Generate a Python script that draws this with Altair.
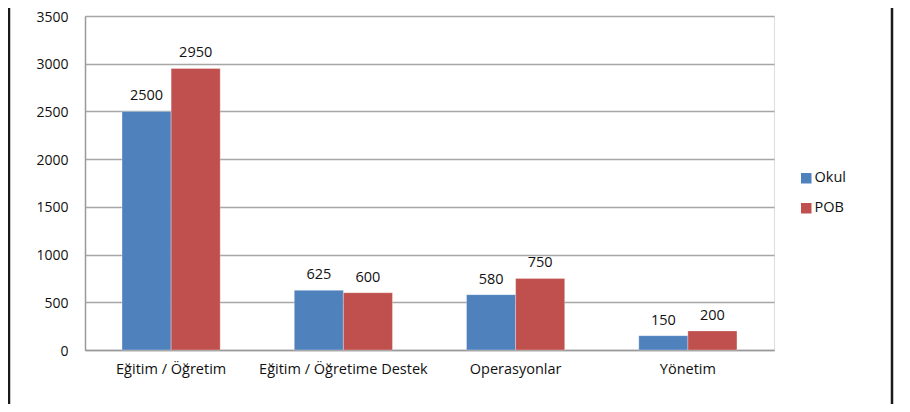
import altair as alt
import pandas as pd

categories = ["Eğitim / Öğretim", "Eğitim / Öğretime Destek", "Operasyonlar", "Yönetim"]
series = ["Okul", "POB"]
okul = [2500, 625, 580, 150]
pob = [2950, 600, 750, 200]
colors = ["#4F81BD", "#C0504D"]
FONT = "Open Sans"
FS = 14.5

rows = []
for c, a, b in zip(categories, okul, pob):
    rows.append({"cat": c, "series": "Okul", "value": a})
    rows.append({"cat": c, "series": "POB", "value": b})
df = pd.DataFrame(rows)

W, H = 689, 334

x = alt.X("cat:N", sort=categories, title=None,
          scale=alt.Scale(paddingInner=0.43, paddingOuter=0.215),
          axis=alt.Axis(labelAngle=0, ticks=False, labelPadding=12, labelFontSize=FS,
                        labelFont=FONT, labelColor="#111111", domainColor="#9a9a9a",
                        domainWidth=1.5, grid=False))
y = alt.Y("value:Q", title=None,
          scale=alt.Scale(domain=[0, 3500], nice=False),
          axis=alt.Axis(values=list(range(0, 3501, 500)), format="d", ticks=False, labelPadding=17,
                        labelFontSize=14, labelOffset=1, labelFont=FONT, labelColor="#111111",
                        domainColor="#9a9a9a", domainWidth=1.5,
                        gridColor="#a6a6a6", gridWidth=1.5))
color = alt.Color("series:N", scale=alt.Scale(domain=series, range=colors),
                  legend=alt.Legend(title=None, orient="none", legendX=714, legendY=155,
                                    symbolType="square", symbolSize=110, symbolStrokeWidth=0,
                                    labelFontSize=FS, labelFont=FONT, labelColor="#111111",
                                    rowPadding=15, labelOffset=1))
xoff = alt.XOffset("series:N", sort=series)

base = alt.Chart(df)
bars = base.mark_bar(stroke="#ffffff", strokeWidth=0.3).encode(x=x, y=y, color=color, xOffset=xoff)
labels = base.mark_text(baseline="alphabetic", dy=-11, fontSize=FS, font=FONT, color="#111111").encode(
    x=alt.X("cat:N", sort=categories), y="value:Q", xOffset=xoff, text="value:Q")

frame_df = pd.DataFrame({"k": [0]})
left_line = alt.Chart(frame_df).mark_rule(color="#1a1a1a", strokeWidth=2.5).encode(
    x=alt.value(-76), y=alt.value(-20), y2=alt.value(400))
right_line = alt.Chart(frame_df).mark_rule(color="#1a1a1a", strokeWidth=2.5).encode(
    x=alt.value(807), y=alt.value(-20), y2=alt.value(400))

chart = alt.layer(bars, labels, left_line, right_line).properties(
    width=W, height=H, autosize=alt.AutoSizeParams(type="none"),
    padding={"left": 77, "top": 8, "right": 120, "bottom": 54},
).configure_view(stroke=None).configure(background="#ffffff")

chart.save("out.html", embed_options={"renderer": "svg", "actions": False})
